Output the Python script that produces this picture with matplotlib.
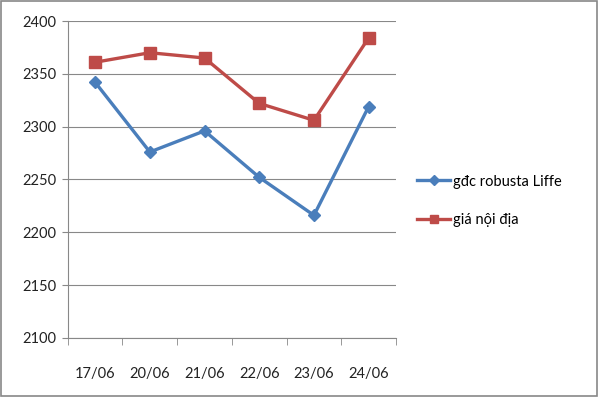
import matplotlib
matplotlib.use("Agg")
import matplotlib.pyplot as plt
from matplotlib.patches import Rectangle
import numpy as np

categories = ["17/06", "20/06", "21/06", "22/06", "23/06", "24/06"]
robusta = [2342, 2276, 2296, 2252, 2216, 2319]
noi_dia = [2361, 2370, 2365, 2322, 2306, 2384]
yticks = [2100, 2150, 2200, 2250, 2300, 2350, 2400]

plt.rcParams['font.family'] = ['Lato', 'DejaVu Sans']

fig = plt.figure(figsize=(6.0, 3.97), dpi=100)
ax = fig.add_axes([0.113, 0.149, 0.547, 0.798])

x = np.arange(len(categories))
ax.plot(x, robusta, color='#4A7EBB', lw=2.4, marker='D', ms=6.5,
        label='gđc robusta Liffe', zorder=3)
ax.plot(x, noi_dia, color='#BE4B48', lw=2.4, marker='s', ms=8,
        label='giá nội địa', zorder=3)

ax.set_xlim(-0.5, len(categories) - 0.5)
ax.set_ylim(2100, 2400)
ax.set_yticks(yticks)
ax.set_yticklabels([str(v) for v in yticks], fontsize=10.5, color='#222222')
ax.set_xticks(x)
ax.set_xticklabels(categories, fontsize=10.5, color='#222222')
ax.set_xticks(np.arange(-0.5, len(categories)), minor=True)
ax.tick_params(axis='x', which='major', length=0, pad=21)
ax.tick_params(axis='x', which='minor', length=5, color='#888888')
ax.tick_params(axis='y', length=4, color='#888888', pad=4)

ax.grid(axis='y', color='#888888', lw=0.8)
ax.set_axisbelow(True)
for s in ['top', 'right']:
    ax.spines[s].set_visible(False)
for s in ['left', 'bottom']:
    ax.spines[s].set_color('#888888')
    ax.spines[s].set_linewidth(0.8)

leg = fig.legend(loc='upper left', bbox_to_anchor=(0.685, 0.575), frameon=False,
                 fontsize=10.5, handlelength=2.3, handletextpad=0.15,
                 labelspacing=1.65, markerscale=0.8, borderaxespad=0)

fig.patches.append(Rectangle((0.002, 0.003), 0.993, 0.994, transform=fig.transFigure,
                             fill=False, edgecolor='#888888', lw=1.2))

fig.savefig("out.png", dpi=100)
